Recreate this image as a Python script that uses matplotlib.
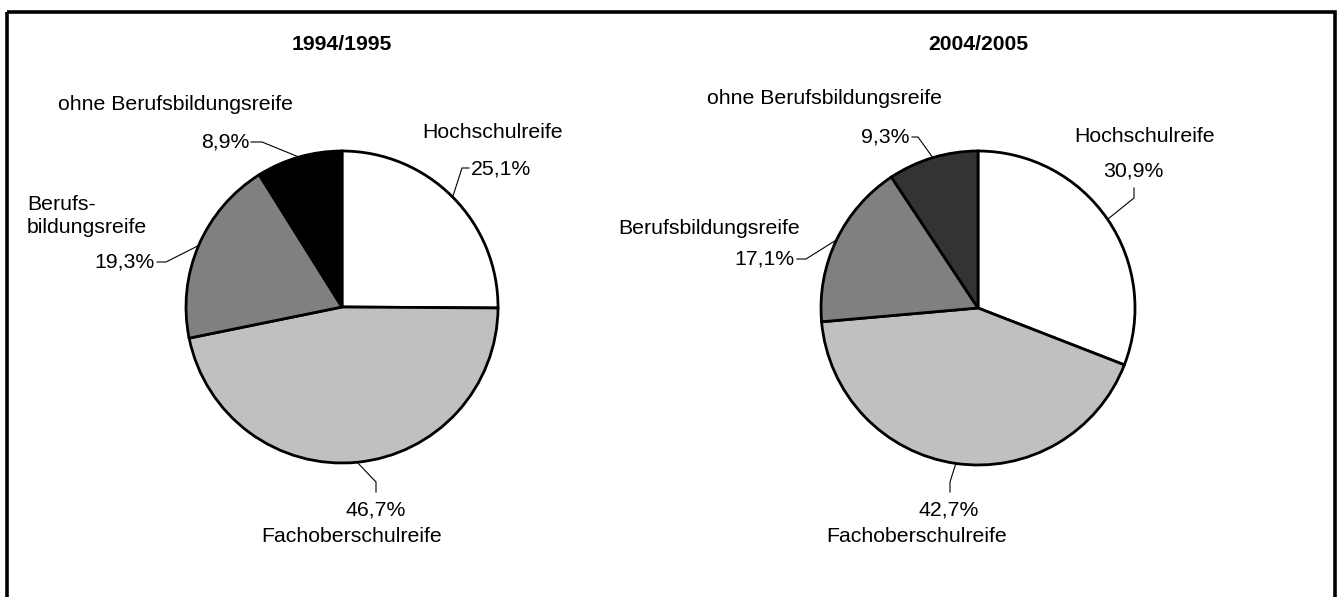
import numpy as np
import matplotlib.pyplot as plt
from matplotlib.patches import Rectangle

plt.rcParams['font.family'] = ['Liberation Sans', 'DejaVu Sans']

categories = ['Hochschulreife', 'Fachoberschulreife', 'Berufsbildungsreife', 'ohne Berufsbildungsreife']
years = ['1994/1995', '2004/2005']
shares_1994 = [25.1, 46.7, 19.3, 8.9]
shares_2004 = [30.9, 42.7, 17.1, 9.3]

colors_1994 = ['white', '#c0c0c0', '#808080', 'black']
colors_2004 = ['white', '#c0c0c0', '#808080', '#333333']

fs = 15.3

fig = plt.figure(figsize=(13.37, 5.97), dpi=100)
ax = fig.add_axes([0, 0, 1, 1])


def pct(v):
    return ('%.1f%%' % v).replace('.', ',')


def draw_pie(values, colors, center, radius, title, layout):
    wedges, _ = ax.pie(values, colors=colors, center=center, radius=radius,
                       startangle=-90, counterclock=True, frame=True,
                       wedgeprops=dict(edgecolor='black', linewidth=2))
    ax.text(center[0], 45, title, ha='center', va='center', fontsize=15.2, fontweight='bold')
    for w, v, lay in zip(wedges, values, layout):
        th = np.deg2rad((w.theta1 + w.theta2) / 2)
        ex = center[0] + radius * np.cos(th)
        ey = center[1] + radius * np.sin(th)
        xs = [ex] + [p[0] for p in lay['line']]
        ys = [ey] + [p[1] for p in lay['line']]
        ax.plot(xs, ys, color='black', lw=0.8)
        px, py, ha = lay['pct']
        ax.text(px, py, pct(v), ha=ha, va='center', fontsize=fs)
        for (lx, ly, lha, txt) in lay['names']:
            ax.text(lx, ly, txt, ha=lha, va='center', fontsize=fs, linespacing=1.25)


layout_1994 = [
    dict(line=[(462, 168), (469, 168)], pct=(471, 169, 'left'),
         names=[(422, 132, 'left', 'Hochschulreife')]),
    dict(line=[(376, 482), (376, 492)], pct=(376, 510, 'center'),
         names=[(352, 537, 'center', 'Fachoberschulreife')]),
    dict(line=[(166, 262), (157, 262)], pct=(155, 262, 'right'),
         names=[(27, 216, 'left', 'Berufs-\nbildungsreife')]),
    dict(line=[(262, 142), (251, 142)], pct=(249, 142, 'right'),
         names=[(58, 105, 'left', 'ohne Berufsbildungsreife')]),
]

layout_2004 = [
    dict(line=[(1134, 198), (1134, 188)], pct=(1133, 171, 'center'),
         names=[(1074, 136, 'left', 'Hochschulreife')]),
    dict(line=[(950, 482), (950, 492)], pct=(949, 510, 'center'),
         names=[(917, 536, 'center', 'Fachoberschulreife')]),
    dict(line=[(806, 259), (797, 259)], pct=(795, 259, 'right'),
         names=[(800, 228, 'right', 'Berufsbildungsreife')]),
    dict(line=[(918, 137), (912, 137)], pct=(910, 137, 'right'),
         names=[(707, 98, 'left', 'ohne Berufsbildungsreife')]),
]

draw_pie(shares_1994, colors_1994, (342, 307), 156, years[0], layout_1994)
draw_pie(shares_2004, colors_2004, (978, 308), 157, years[1], layout_2004)

# frame around the whole chart
ax.add_patch(Rectangle((7, 12), 1328, 620, fill=False, edgecolor='black', lw=2.6))

ax.set_xlim(0, 1337)
ax.set_ylim(597, 0)
ax.set_aspect('auto')
ax.axis('off')

fig.savefig('out.png', dpi=100)
